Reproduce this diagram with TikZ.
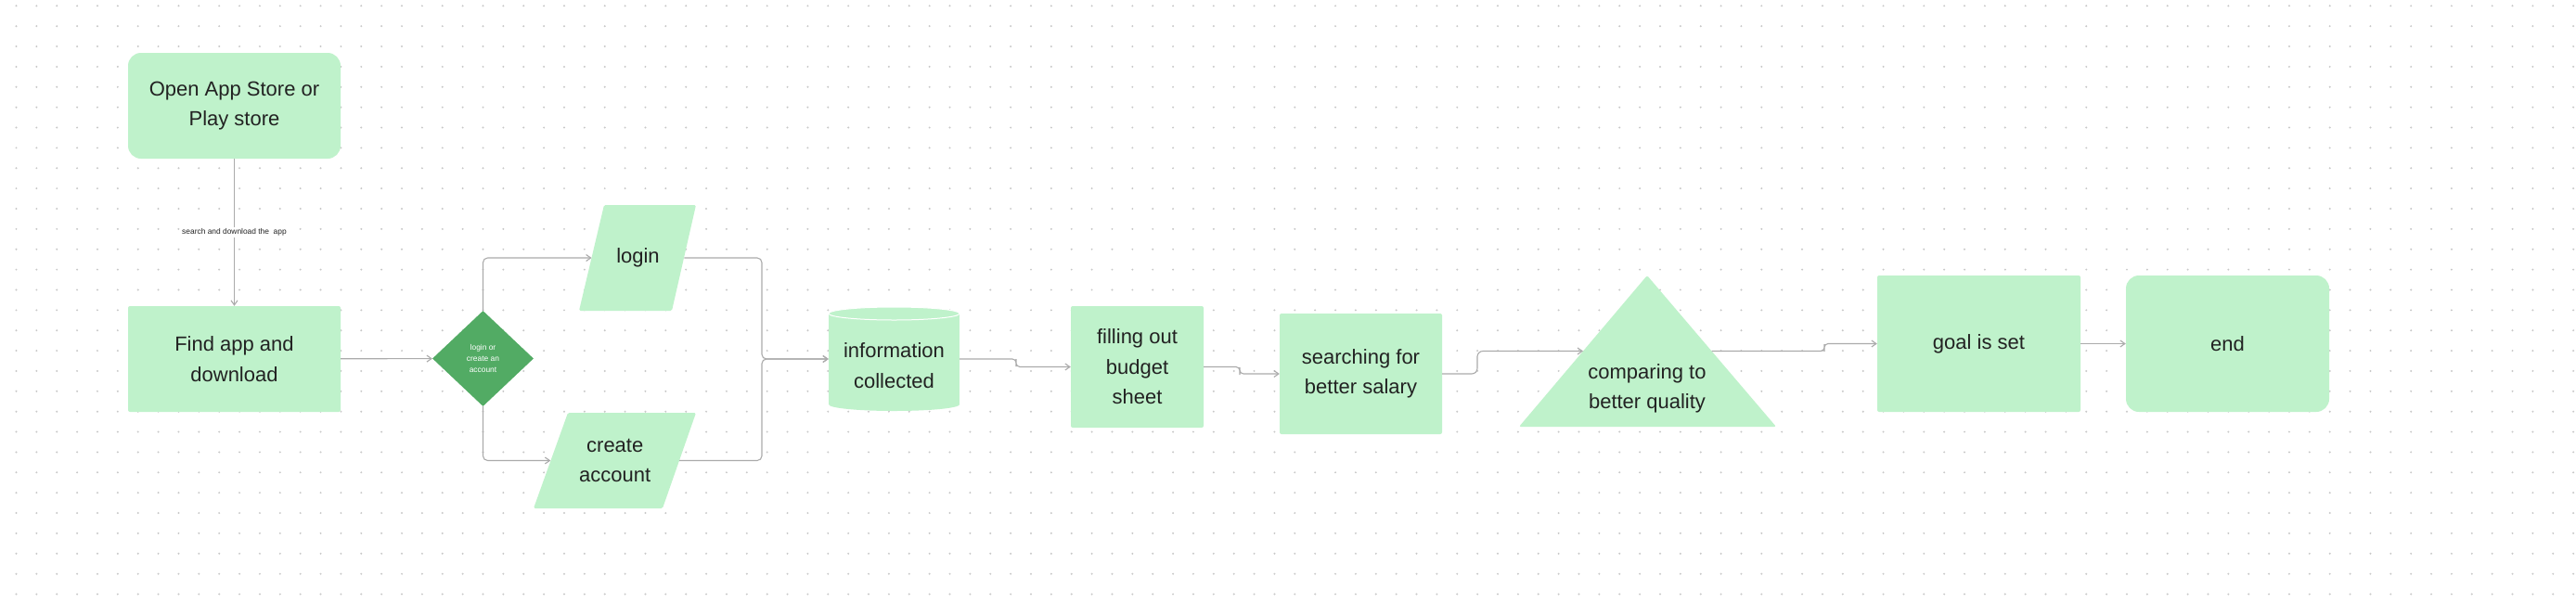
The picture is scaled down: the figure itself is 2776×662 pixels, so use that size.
\documentclass[tikz,border=0pt]{standalone}
\usepackage{fontspec}
\setmainfont{Liberation Sans}
\usetikzlibrary{arrows.meta,calc,shapes.geometric}
\definecolor{lgreen}{HTML}{BFF2CB}
\definecolor{dgreen}{HTML}{52AB64}
\definecolor{txtc}{HTML}{222222}
\definecolor{linec}{HTML}{ABABAB}
\definecolor{dotc}{HTML}{C8C8C8}
\begin{document}
\begin{tikzpicture}[x=1pt,y=-1pt,
  shapebox/.style={fill=lgreen, text=txtc, align=center, inner sep=0pt, font=\fontsize{22}{32.5}\selectfont},
  plaintext/.style={text=txtc, align=center, inner sep=0pt, font=\fontsize{22}{32.5}\selectfont},
  dia/.style={shape=diamond, fill=dgreen, text=white, align=center, inner sep=0pt, minimum width=109pt, minimum height=103pt, font=\fontsize{8.4}{12.3}\selectfont},
  conn/.style={draw=linec, line width=1.1pt, -{Straight Barb[length=5pt,width=7pt]}},
  lbl/.style={fill=white, text=txtc, inner sep=1.5pt, font=\fontsize{8.4}{10}\selectfont},
  shapefill/.style={fill=lgreen, rounded corners=1.5pt}
]
\fill[white] (0,0) rectangle (2776,662);
\useasboundingbox (0,0) rectangle (2776,662);
% dotted grid
\foreach \i in {0,...,126}{
  \foreach \j in {0,...,29}{
    \fill[dotc] ({17.5+21.87*\i},{6.3+21.87*\j}) circle (1.1pt);
  }
}
% shapes drawn directly
\fill[shapefill] (624,335) -- (651,221) -- (750,221) -- (724,335) -- cycle;
\fill[shapefill] (575,548) -- (612,445) -- (750,445) -- (714,548) -- cycle;
\fill[lgreen] (893,338) rectangle (1034,436);
\fill[lgreen] (963.5,436) ellipse [x radius=70.5pt, y radius=7pt];
\fill[lgreen] (963.5,338) ellipse [x radius=70.5pt, y radius=7pt];
\draw[white, line width=1pt] (963.5,338) ellipse [x radius=70.5pt, y radius=7pt];
\coordinate (tA) at (1775,297);
\coordinate (tBL) at (1637,460);
\coordinate (tBR) at (1914,460);
\fill[lgreen, rounded corners=2pt] (tA) -- (tBR) -- (tBL) -- cycle;
\coordinate (triL) at ($(tA)!0.5!(tBL)$);
\coordinate (triR) at ($(tA)!0.5!(tBR)$);
% nodes
\node[shapebox, rounded corners=14pt, minimum width=229pt, minimum height=114pt] (open) at (252.5,114) {Open App Store or\\Play store};
\node[shapebox, rounded corners=2pt, minimum width=229pt, minimum height=114pt] (find) at (252.5,387) {Find app and\\download};
\node[dia] (dec) at (520.5,386.5) {login or\\create an\\account};
\node[plaintext, minimum width=99.5pt, minimum height=114pt] (login) at (687.5,278) {login};
\node[plaintext, minimum width=138.5pt, minimum height=103pt] (create) at (662.75,496.5) {create\\account};
\node[inner sep=0pt, minimum width=141pt, minimum height=112pt,
  label={[plaintext, yshift=-7pt]center:information\\collected}] (info) at (963.5,387) {};
\node[shapebox, rounded corners=2pt, minimum width=143pt, minimum height=131pt] (budget) at (1225.5,395.5) {filling out\\budget\\sheet};
\node[shapebox, rounded corners=2pt, minimum width=175pt, minimum height=130pt] (search) at (1466.5,403) {searching for\\better salary};
\node[plaintext] (tri) at (1775,419) {comparing to\\better quality};
\node[shapebox, rounded corners=2pt, minimum width=219pt, minimum height=147pt] (goal) at (2132.5,370.5) {goal is set};
\node[shapebox, rounded corners=14pt, minimum width=219pt, minimum height=147pt] (finish) at (2400.5,370.5) {end};
% junction coordinates
\coordinate (merge) at (821,387);
\coordinate (j1) at (1095,391);
\coordinate (j2) at (1336,400);
\coordinate (j3) at (1592,390);
\coordinate (j4) at (1966,375);
% connectors
\draw[conn] (open) -- node[lbl] {search and download the\ \ app} (find);
\draw[conn] (find) -- (dec);
\draw[conn, rounded corners=5pt] (dec.north) |- (login.west);
\draw[conn, rounded corners=5pt] (dec.south) |- (create.west);
\draw[conn, rounded corners=5pt] (login.east) -| (merge) -- (info.west);
\draw[conn, rounded corners=5pt] (create.east) -| (merge) -- (info.west);
\draw[conn, rounded corners=4pt] (info.east) -| (j1) |- (budget.west);
\draw[conn, rounded corners=4pt] (budget.east) -| (j2) |- (search.west);
\draw[conn, rounded corners=6pt] (search.east) -| (j3) |- (triL);
\draw[conn, rounded corners=4pt] (triR) -| (j4) |- (goal.west);
\draw[conn] (goal) -- (finish);
\end{tikzpicture}
\end{document}
